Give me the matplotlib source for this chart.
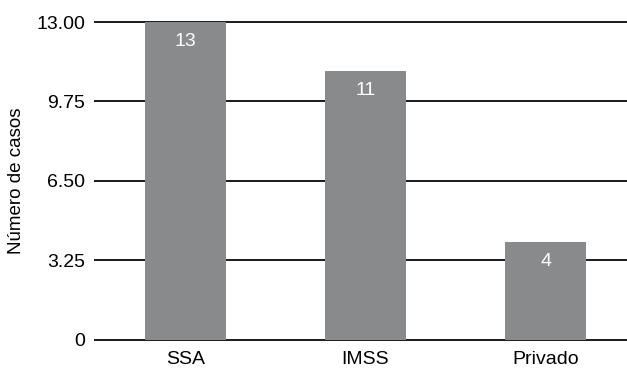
import matplotlib
matplotlib.use("Agg")
import matplotlib.pyplot as plt

categories = ["SSA", "IMSS", "Privado"]
casos = [13, 11, 4]
yticks = [0, 3.25, 6.50, 9.75, 13.00]
ytick_labels = ["0", "3.25", "6.50", "9.75", "13.00"]

plt.rcParams['font.family'] = ['Liberation Sans', 'DejaVu Sans']

fig = plt.figure(figsize=(6.27, 3.71), dpi=100)
ax = fig.add_axes([0.1515, 0.0849, 0.8485, 0.8558])

x = range(len(categories))
bars = ax.bar(x, casos, width=0.45, color="#898a8c", zorder=3)

for b, v in zip(bars, casos):
    ax.annotate(str(v), (b.get_x() + b.get_width() / 2, v),
                xytext=(0, -14), textcoords="offset points",
                ha="center", va="center", color="white", fontsize=14, zorder=4)

ax.set_xlim(-0.5, 2.45)
ax.set_ylim(0, 13)
ax.set_yticks(yticks)
ax.set_yticklabels(ytick_labels)
ax.set_xticks(list(x))
ax.set_xticklabels(categories)
ax.tick_params(axis="both", length=0, labelsize=14)
ax.tick_params(axis="y", pad=7)
ax.tick_params(axis="x", pad=8)
ax.yaxis.grid(True, color="#1a1a1a", linewidth=1.4, zorder=1)
for gl in ax.yaxis.get_gridlines():
    gl.set_clip_on(False)
ax.set_axisbelow(True)
for s in ax.spines.values():
    s.set_visible(False)
ax.set_ylabel("Número de casos", fontsize=13.5, labelpad=8)

fig.savefig("out.png", dpi=100)
